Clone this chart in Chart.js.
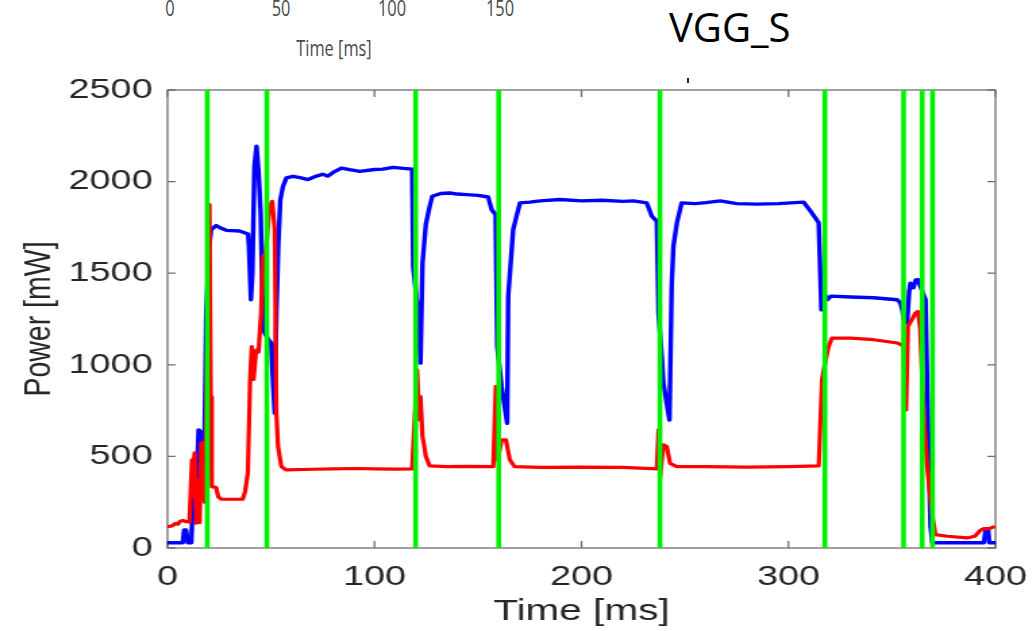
<!DOCTYPE html>
<html>
<head>
<meta charset="utf-8">
<title>VGG_S power trace</title>
<script src="https://cdn.jsdelivr.net/npm/chart.js@4.4.0/dist/chart.umd.min.js"></script>
<style>
  body { margin: 0; background: #fff; }
  #page { position: relative; width: 1036px; height: 631px; overflow: hidden; background: #fff; }
  #stretch { position: absolute; left: 0; top: 0; width: 767px; height: 631px; transform: scaleX(1.3507); transform-origin: 0 0; }
  .cut { position: absolute; font-family: "Open Sans", sans-serif; color: #4a4a4a; font-size: 21px; line-height: 21px; white-space: nowrap; transform: translateX(-50%) scaleX(0.78); }
  #title { position: absolute; left: 669px; top: 0px; font-family: "Open Sans", sans-serif; font-size: 40px; line-height: 54px; color: #000; }
  #speck { position: absolute; left: 687px; top: 78px; width: 2px; height: 5px; background: #222; }
</style>
</head>
<body>
<div id="page">
  <div class="cut" style="left:170px; top:-2px">0</div>
  <div class="cut" style="left:281px; top:-2px">50</div>
  <div class="cut" style="left:392px; top:-2px">100</div>
  <div class="cut" style="left:500px; top:-2px">150</div>
  <div class="cut" style="left:334px; top:38px">Time [ms]</div>
  <div id="title">VGG_S</div>
  <div id="speck"></div>
  <div id="stretch"><canvas id="powerChart" width="767" height="631"></canvas></div>
</div>
<script>
// blue trace
const blueTime = [0, 7.4, 8.0, 9.0, 9.8, 11.5, 12.3, 14.0, 15.0, 16.3, 16.8, 17.8, 18.7, 20.2, 21.1, 23.5, 26, 28.4, 34.8, 38.9,
  39.3, 40.3, 41.0, 42.0, 43.0, 44.0, 45.0, 46.0, 46.9, 48.6, 50.0, 51.0, 51.8, 52.6, 53.5, 54.5, 55.8, 57.4, 60.6, 64,
  67.9, 72, 75, 77.5, 80, 84, 88, 92.9, 100, 104, 109, 114, 118.2, 118.7, 119.5, 121.1, 122.2, 123.2, 124.8, 126.7,
  127.9, 132, 136.4, 140, 144.5, 150, 154.9, 156.6, 158.5, 159.3, 161.4, 164.1, 164.6, 167, 168.6, 170.3, 175, 180, 189.6, 200,
  210, 220, 225.1, 231.5, 234.0, 236.4, 237.2, 238.8, 239.6, 242.5, 243.6, 244.4, 246.1, 248.4, 255, 260, 267, 275, 284.7, 295,
  307.3, 311.3, 314.6, 315.9, 317.0, 318.8, 320.5, 330, 341.2, 352.5, 354.1, 355.0, 355.7, 357.3, 358.3, 358.9, 360.3, 361.5, 362.5, 366.2,
  367.0, 368.0, 368.6, 369.5, 371, 394.4, 395.2, 396.5, 397.0, 400];
const bluePower = [29, 29, 98, 98, 29, 29, 280, 330, 645, 630, 370, 520, 1280, 1650, 1738, 1760, 1745, 1734, 1730, 1714,
  1650, 1355, 1500, 2084, 2193, 2050, 1830, 1290, 1175, 1140, 1120, 900, 736, 1282, 1650, 1900, 1974, 2020, 2029, 2022,
  2011, 2030, 2040, 2030, 2050, 2074, 2065, 2056, 2066, 2068, 2078, 2072, 2068, 1537, 1450, 1282, 1009, 1555, 1767, 1865,
  1920, 1935, 1938, 1932, 1929, 1925, 1916, 1847, 1820, 1100, 882, 681, 1373, 1738, 1811, 1884, 1888, 1895, 1902, 1895,
  1898, 1892, 1895, 1884, 1811, 1784, 1282, 1045, 900, 699, 1440, 1646, 1775, 1884, 1880, 1885, 1895, 1880, 1877, 1880,
  1888, 1829, 1775, 1300, 1395, 1355, 1375, 1370, 1366, 1355, 1337, 1300, 1250, 1228, 1400, 1446, 1420, 1463, 1465, 1355,
  900, 400, 117, 29, 29, 29, 98, 98, 29, 29];

// red trace
const redTime = [0, 2, 4, 5, 6, 7.4, 8.5, 10.6, 11.8, 12.3, 12.7, 13.1, 13.9, 14.7, 15.5, 16.3, 17.1, 17.9, 18.7, 19.5,
  20.3, 20.9, 21.4, 23.5, 24.5, 26, 30, 36.4, 37.5, 38.8, 39.9, 40.7, 41.6, 42.8, 44.0, 45.2, 46.1, 47.4, 49.3, 50.6,
  51.8, 52.6, 53.4, 55.0, 57.4, 70, 80, 90, 100, 110, 118.2, 120.6, 121.6, 122.2, 123.2, 124.0, 124.8, 126.7, 135, 145,
  157.4, 158.6, 159.5, 161.4, 163.5, 165.4, 167.7, 180, 200, 220, 236.4, 237.2, 238.0, 239.6, 241.2, 242.8, 246.0, 260, 280, 300,
  314.6, 316.2, 317.5, 319.4, 321, 330, 341.2, 352.5, 354.4, 355.5, 356.8, 357.7, 359.6, 361.3, 362.5, 363.6, 365.3, 366.9, 369.3, 371.0,
  376.7, 386.3, 390, 392.8, 394.4, 397, 399.7];
const redPower = [116, 120, 135, 130, 145, 151, 145, 142, 481, 280, 460, 520, 135, 370, 140, 572, 575, 250, 700, 1300,
  1874, 827, 335, 330, 280, 266, 266, 266, 310, 408, 918, 1100, 920, 1080, 1070, 1282, 1592, 1610, 1865, 1892,
  1738, 736, 554, 444, 426, 430, 432, 434, 432, 430, 432, 973, 700, 827, 608, 560, 499, 448, 444, 446,
  444, 882, 480, 590, 590, 481, 444, 440, 442, 440, 432, 645, 390, 563, 554, 462, 444, 444, 442, 444,
  448, 918, 1000, 1100, 1146, 1146, 1137, 1119, 1110, 1100, 754, 1209, 1246, 1282, 1291, 1200, 736, 462, 189, 73,
  64, 55, 64, 98, 106, 106, 118];

// green layer-boundary markers (ms)
const markerTimes = [19.2, 48.0, 119.9, 160.0, 237.9, 317.6, 355.6, 364.6, 369.6];

const xTicks = [0, 100, 200, 300, 400];
const yTicks = [0, 500, 1000, 1500, 2000, 2500];

function toPoints(ts, vs) {
  return ts.map((t, i) => ({ x: t, y: vs[i] }));
}

let markerPoints = [];
markerTimes.forEach(t => {
  markerPoints.push({ x: t, y: yTicks[0] }, { x: t, y: yTicks[yTicks.length - 1] }, { x: t, y: null });
});

// MATLAB style box with ticks pointing inward
const boxPlugin = {
  id: 'box',
  beforeDatasetsDraw(chart) {
    const ctx = chart.ctx;
    const a = chart.chartArea;
    const x = chart.scales.x, y = chart.scales.y;
    ctx.save();
    ctx.strokeStyle = '#6f6f6f';
    ctx.lineWidth = 1.3;
    ctx.strokeRect(a.left, a.top, a.right - a.left, a.bottom - a.top);
    ctx.beginPath();
    xTicks.forEach(v => {
      let px = x.getPixelForValue(v);
      ctx.moveTo(px, a.bottom); ctx.lineTo(px, a.bottom - 7);
      ctx.moveTo(px, a.top); ctx.lineTo(px, a.top + 7);
    });
    yTicks.forEach(v => {
      let py = y.getPixelForValue(v);
      ctx.moveTo(a.left, py); ctx.lineTo(a.left + 6, py);
      ctx.moveTo(a.right, py); ctx.lineTo(a.right - 6, py);
    });
    ctx.stroke();
    ctx.restore();
  }
};

const ctx = document.getElementById('powerChart').getContext('2d');
new Chart(ctx, {
  type: 'line',
  data: {
    datasets: [
      { label: 'markers', data: markerPoints, borderColor: '#00f000', borderWidth: 3.6, pointRadius: 0, spanGaps: false, order: 0 },
      { label: 'red', data: toPoints(redTime, redPower), borderColor: '#ff0000', borderWidth: 3.2, pointRadius: 0, order: 1 },
      { label: 'blue', data: toPoints(blueTime, bluePower), borderColor: '#0000ff', borderWidth: 3.4, pointRadius: 0, order: 2 }
    ]
  },
  options: {
    responsive: false,
    animation: false,
    layout: { padding: { top: 90, right: 30, left: 0, bottom: 0 } },
    plugins: { legend: { display: false }, tooltip: { enabled: false } },
    elements: { line: { tension: 0, borderJoinStyle: 'round', borderCapStyle: 'butt' } },
    scales: {
      x: {
        type: 'linear', min: 0, max: 400,
        afterBuildTicks: s => { s.ticks = xTicks.map(v => ({ value: v })); },
        afterFit: s => { s.height = 83; s.paddingLeft = 0; s.paddingRight = 0; },
        grid: { display: false, drawTicks: false },
        border: { display: false },
        ticks: { padding: 12, color: '#262626', font: { family: 'Liberation Sans', size: 28 }, callback: v => String(v) },
        title: { display: true, text: 'Time [ms]', color: '#262626', padding: { top: 0, bottom: 1 }, font: { family: 'Liberation Sans', size: 30 } }
      },
      y: {
        min: 0, max: 2500,
        afterBuildTicks: s => { s.ticks = yTicks.map(v => ({ value: v })); },
        afterFit: s => { s.width = 124; s.paddingTop = 0; s.paddingBottom = 0; },
        grid: { display: false, drawTicks: false },
        border: { display: false },
        ticks: { padding: 11, color: '#262626', font: { family: 'Liberation Sans', size: 28 }, callback: v => String(v) },
        title: { display: true, text: 'Power [mW]', color: '#262626', padding: { top: 12, bottom: 0 }, font: { family: 'Liberation Sans', size: 28.5 } }
      }
    }
  },
  plugins: [boxPlugin]
});
</script>
</body>
</html>
